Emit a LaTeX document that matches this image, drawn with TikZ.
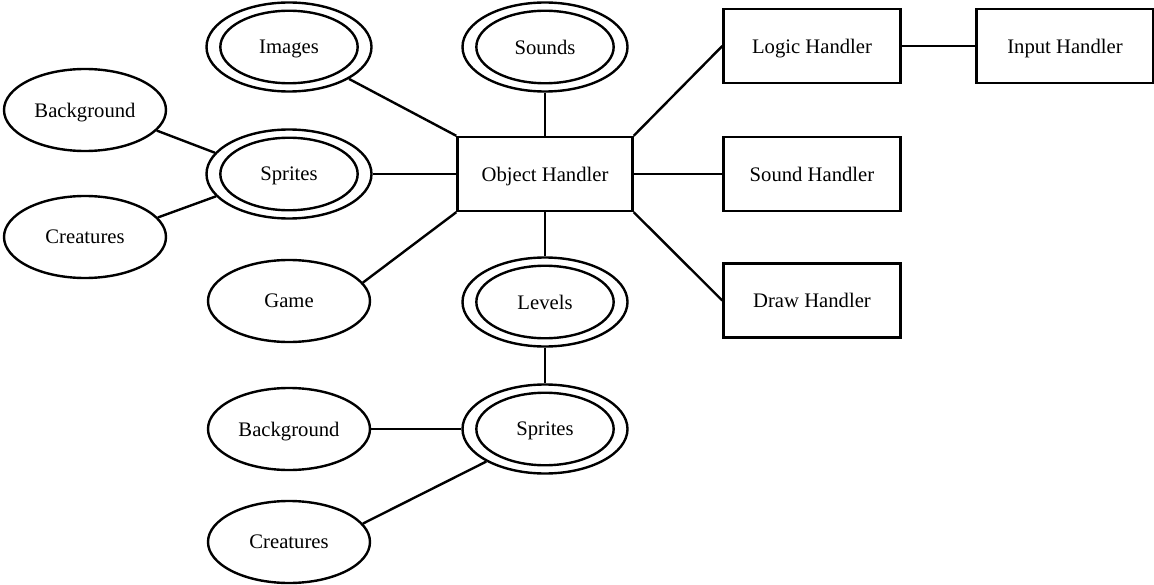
\documentclass[tikz,border=0pt]{standalone}
\usepackage{fontspec}
\setmainfont{Liberation Serif}
\usetikzlibrary{shapes.geometric}
\begin{document}
\begin{tikzpicture}[x=0.75pt,y=-0.75pt,
  every node/.style={font=\fontsize{15.5}{18}\selectfont, inner sep=0pt, text depth=0pt},
  wire/.style={line width=1.8pt},
  attr/.style={ellipse, draw, line width=1.8pt, minimum width=121.5pt, minimum height=61.5pt},
  multi/.style={ellipse, draw, line width=1.8pt, minimum width=123.75pt, minimum height=66.75pt},
  handler/.style={rectangle, draw, line width=1.8pt, minimum width=132.75pt, minimum height=55.5pt},
  inner/.style={line width=1.8pt}]
\useasboundingbox (0,0) rectangle (1154,585);

% object handler and the other handlers
\node[handler, minimum width=131.25pt] (oh) at (545,174) {Object Handler};
\node[handler] (logic) at (812,46) {Logic Handler};
\node[handler] (input) at (1065,46) {Input Handler};
\node[handler] (sndh) at (812,174) {Sound Handler};
\node[handler] (drawh) at (812,300.5) {Draw Handler};

% multivalued attributes (double ellipses)
\node[multi] (img) at (289,47) {Images};
\node[multi] (snd) at (545,47) {Sounds};
\node[multi] (spr1) at (289,174) {Sprites};
\node[multi] (lev) at (545,302) {Levels};
\node[multi] (spr2) at (545,429) {Sprites};
\foreach \n in {img,snd,spr1,lev,spr2}
  \draw[inner] (\n.center) ellipse [x radius=51.5pt, y radius=27.2pt];

% simple attributes
\node[attr] (bg1) at (85,110) {Background};
\node[attr] (cr1) at (85,237) {Creatures};
\node[attr] (game) at (289,301) {Game};
\node[attr] (bg2) at (289,429) {Background};
\node[attr] (cr2) at (289,542) {Creatures};

% connectors
\draw[wire] (img.-28.5) -- (oh.north west);
\draw[wire] (snd) -- (oh);
\draw[wire] (spr1) -- (oh);
\draw[wire] (game.14.6) -- (oh.south west);
\draw[wire] (oh) -- (lev);
\draw[wire] (oh.north east) -- (logic.west);
\draw[wire] (oh) -- (sndh);
\draw[wire] (oh.south east) -- (drawh.west);
\draw[wire] (logic) -- (input);
\draw[wire] (bg1.-16) -- (spr1.164);
\draw[wire] (cr1.15) -- (spr1.197);
\draw[wire] (lev) -- (spr2);
\draw[wire] (bg2) -- (spr2);
\draw[wire] (cr2.14.6) -- (spr2.209.5);
\end{tikzpicture}
\end{document}
